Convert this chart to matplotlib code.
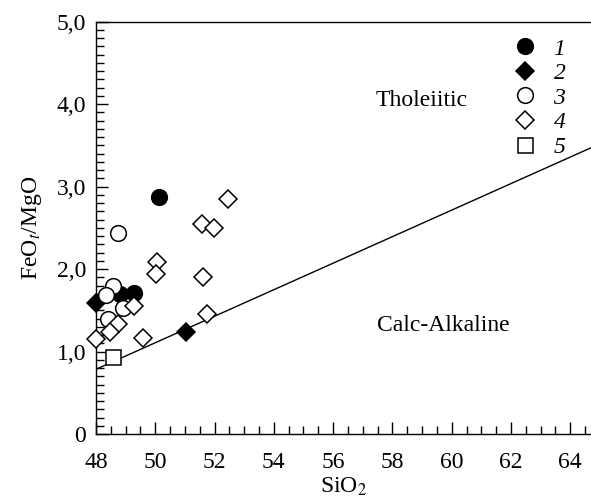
import os
import matplotlib
matplotlib.use("Agg")
import matplotlib.pyplot as plt
from matplotlib import font_manager
from matplotlib.lines import Line2D
from matplotlib.ticker import MultipleLocator, FixedLocator, FixedFormatter

# pick a Times-like serif that is really installed
names = {f.name for f in font_manager.fontManager.ttflist}
serif = None
for cand in ["Liberation Serif", "Nimbus Roman", "STIXGeneral"]:
    if cand in names:
        serif = cand
        break
if serif is None:
    ttf_dir = os.path.join(matplotlib.get_data_path(), "fonts", "ttf")
    for fn in ["STIXGeneral.ttf", "STIXGeneralItalic.ttf"]:
        p = os.path.join(ttf_dir, fn)
        if os.path.exists(p):
            font_manager.fontManager.addfont(p)
    serif = "STIXGeneral"
plt.rcParams["font.family"] = [serif, "DejaVu Serif"]
plt.rcParams["mathtext.fontset"] = "stix"

# group 1: filled circles
g1_sio2 = [50.14, 48.80, 49.28]
g1_ratio = [2.87, 1.70, 1.71]
# group 2: filled diamonds
g2_sio2 = [48.0, 51.05]
g2_ratio = [1.59, 1.24]
# group 3: open circles
g3_sio2 = [48.75, 48.58, 48.33, 48.91, 48.41]
g3_ratio = [2.44, 1.79, 1.69, 1.53, 1.40]
# group 4: open diamonds
g4_sio2 = [52.45, 51.57, 51.98, 50.06, 50.03, 51.61, 49.28, 51.76, 48.75, 48.47, 48.0, 49.58]
g4_ratio = [2.85, 2.55, 2.50, 2.08, 1.94, 1.91, 1.55, 1.46, 1.33, 1.24, 1.15, 1.16]
# group 5: open square
g5_sio2 = [48.58]
g5_ratio = [0.93]

# tholeiitic / calc-alkaline divide
line_sio2 = [48.0, 66.0]
line_ratio = [0.785, 3.68]

legend_labels = ["1", "2", "3", "4", "5"]
y_ticks = [0, 1, 2, 3, 4, 5]
y_tick_labels = ["0", "1,0", "2,0", "3,0", "4,0", "5,0"]
x_ticks = [48, 50, 52, 54, 56, 58, 60, 62, 64]

FS = 17

fig = plt.figure(figsize=(5.91, 5.01), dpi=100)
ax = fig.add_axes([0.1624, 0.1337, 0.8376, 0.823])

ax.plot(line_sio2, line_ratio, "-", color="black", linewidth=1.0, zorder=1)

ms_c = 11.3
ms_d = 8.7
ms_s = 10.8
ew = 1.1
styles = [
    (g1_sio2, g1_ratio, "o", "black", ms_c),
    (g2_sio2, g2_ratio, "D", "black", ms_d),
    (g3_sio2, g3_ratio, "o", "white", ms_c),
    (g4_sio2, g4_ratio, "D", "white", ms_d),
    (g5_sio2, g5_ratio, "s", "white", ms_s),
]
for xs, ys, marker, face, size in styles:
    ax.plot(xs, ys, linestyle="", marker=marker, markersize=size,
            markerfacecolor=face, markeredgecolor="black",
            markeredgewidth=ew, clip_on=False, zorder=3)

ax.set_xlim(48, 64.7)
ax.set_ylim(0, 5)

ax.xaxis.set_major_locator(FixedLocator(x_ticks))
ax.xaxis.set_minor_locator(MultipleLocator(0.5))
ax.yaxis.set_major_locator(FixedLocator(y_ticks))
ax.yaxis.set_major_formatter(FixedFormatter(y_tick_labels))
ax.yaxis.set_minor_locator(MultipleLocator(0.1))

ax.tick_params(which="both", direction="in", top=False, right=False,
               labelsize=FS, width=1.0)
ax.tick_params(which="major", length=8.5)
ax.tick_params(axis="y", which="major", pad=7)
ax.tick_params(axis="x", which="major", pad=13)
ax.tick_params(which="minor", length=5.5)
ax.spines["right"].set_visible(False)
for s in ["left", "bottom", "top"]:
    ax.spines[s].set_linewidth(1.0)

ax.set_xlabel("SiO$_2$", fontsize=FS, labelpad=2)
ax.set_ylabel("FeO$_t$/MgO", fontsize=FS, labelpad=9)

ax.text(57.44, 4.05, "Tholeiitic", fontsize=FS, ha="left", va="center")
ax.text(57.48, 1.31, "Calc-Alkaline", fontsize=FS, ha="left", va="center")

handles = []
for xs, ys, marker, face, size in styles:
    handles.append(Line2D([0], [0], linestyle="", marker=marker, markersize=size,
                          markerfacecolor=face, markeredgecolor="black",
                          markeredgewidth=ew))
leg = ax.legend(handles, legend_labels, loc="upper left",
                bbox_to_anchor=(511 / 591, 1 - 38 / 501),
                bbox_transform=fig.transFigure, frameon=False,
                fontsize=FS, labelspacing=0.13, handletextpad=0.6,
                handlelength=1.2, borderaxespad=0, borderpad=0)
for t in leg.get_texts():
    t.set_fontstyle("italic")

fig.savefig("out.png", dpi=100)
